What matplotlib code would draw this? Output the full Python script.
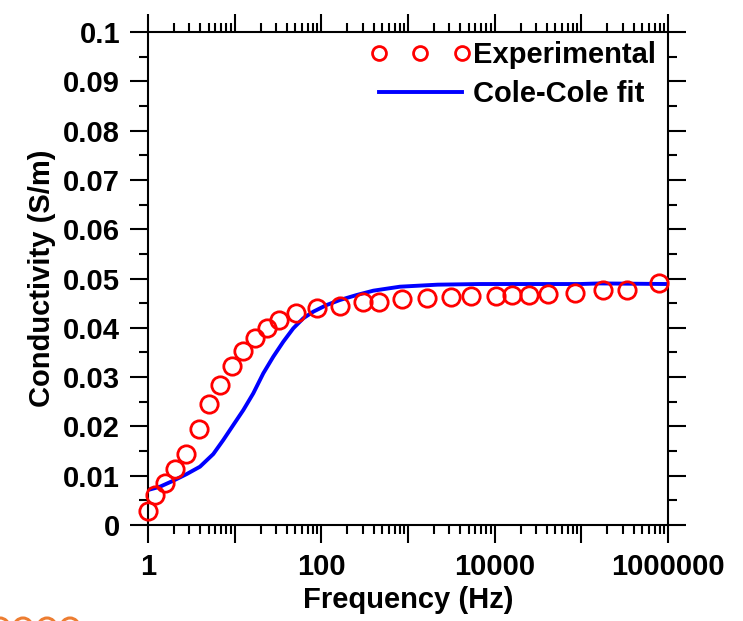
import numpy as np
import matplotlib
matplotlib.use('Agg')
import matplotlib.pyplot as plt
from matplotlib.ticker import LogLocator, FixedLocator, MultipleLocator, NullFormatter
from matplotlib.patches import Circle

plt.rcParams['font.family'] = 'Liberation Sans'
plt.rcParams['font.weight'] = 'bold'
plt.rcParams['font.size'] = 21

# measured conductivity spectrum
exp_freq = [1.0, 1.2, 1.57, 2.05, 2.74, 3.88, 5.1, 6.8, 9.25, 12.4, 17.2, 23.4, 32.5,
            50.6, 89.8, 164, 305, 463, 860, 1670, 3135, 5330, 10350, 15960, 24900,
            41500, 84300, 179000, 339000, 794000]
exp_sigma = [0.0029, 0.0061, 0.0086, 0.0113, 0.0145, 0.0195, 0.0245, 0.0283, 0.0323,
             0.0353, 0.0380, 0.0400, 0.0416, 0.0431, 0.0440, 0.0445, 0.0452, 0.0453,
             0.0458, 0.0460, 0.0463, 0.0464, 0.0464, 0.0467, 0.0467, 0.0469, 0.0470,
             0.0477, 0.0477, 0.0490]

# Cole-Cole model curve
fit_freq = [1.0, 1.375, 1.96, 2.80, 3.98, 5.67, 7.39, 9.64, 12.6, 16.4, 21.4, 27.9,
            36.4, 47.5, 61.9, 80.8, 115, 164, 256, 398, 809, 2200, 6770, 96600,
            164000, 1000000]
fit_sigma = [0.00710, 0.00777, 0.00899, 0.01034, 0.01183, 0.0144, 0.01724, 0.02028,
             0.02333, 0.02671, 0.03077, 0.03414, 0.03718, 0.0399, 0.04193, 0.04327,
             0.04462, 0.04564, 0.04665, 0.04753, 0.04834, 0.04875, 0.04888, 0.04888,
             0.04900, 0.04888]

y_ticks = [0, 0.01, 0.02, 0.03, 0.04, 0.05, 0.06, 0.07, 0.08, 0.09, 0.1]
x_labels = [1, 100, 10000, 1000000]

fig = plt.figure(figsize=(7.43, 6.21), dpi=100)
ax = fig.add_axes([148 / 743, 1 - 525 / 621, 520 / 743, 493 / 621])

ax.plot(exp_freq, exp_sigma, 'o', mfc='none', mec='red', ms=12.5, mew=2.0,
        label='Experimental', clip_on=False, zorder=3)
ax.plot(fit_freq, fit_sigma, '-', color='#0000ff', lw=2.8, label='Cole-Cole fit',
        solid_joinstyle='round', zorder=2)

ax.set_xscale('log')
ax.set_xlim(1, 1e6)
ax.set_ylim(0, 0.1)

decades = [10 ** k for k in range(7)]
ax.xaxis.set_minor_locator(LogLocator(base=10, subs=np.arange(2, 10), numticks=20))
ax.xaxis.set_minor_formatter(NullFormatter())
ax.set_xticks(decades)
ax.set_xticklabels([str(v) if v in x_labels else '' for v in decades])

ax.yaxis.set_major_locator(FixedLocator(y_ticks))
ax.yaxis.set_minor_locator(MultipleLocator(0.005))
ax.set_yticklabels([f'{v:g}' for v in y_ticks])

ax.tick_params(which='both', direction='out', top=True, right=True, width=1.5, color='black')
ax.tick_params(which='major', length=13, pad=7)
ax.tick_params(which='minor', length=6.5)
for s in ax.spines.values():
    s.set_linewidth(1.5)

ax.set_xlabel('Frequency (Hz)', fontweight='bold', labelpad=4)
ax.set_ylabel('Conductivity (S/m)', fontweight='bold', labelpad=5)

ax.legend(loc='upper right', bbox_to_anchor=(0.994, 1.0), frameon=False, numpoints=3,
          handlelength=3.45, handletextpad=0.08, markerscale=0.8, labelspacing=0.4,
          borderaxespad=0.1, borderpad=0.2)

# partial rings at the lower edge
for cx in [0, 23, 47, 70]:
    fig.add_artist(Circle((cx / 100, -6 / 100), 9 / 100, transform=fig.dpi_scale_trans,
                          fill=False, ec='#ED7D31', lw=2.2))

fig.savefig('out.png', dpi=100)
